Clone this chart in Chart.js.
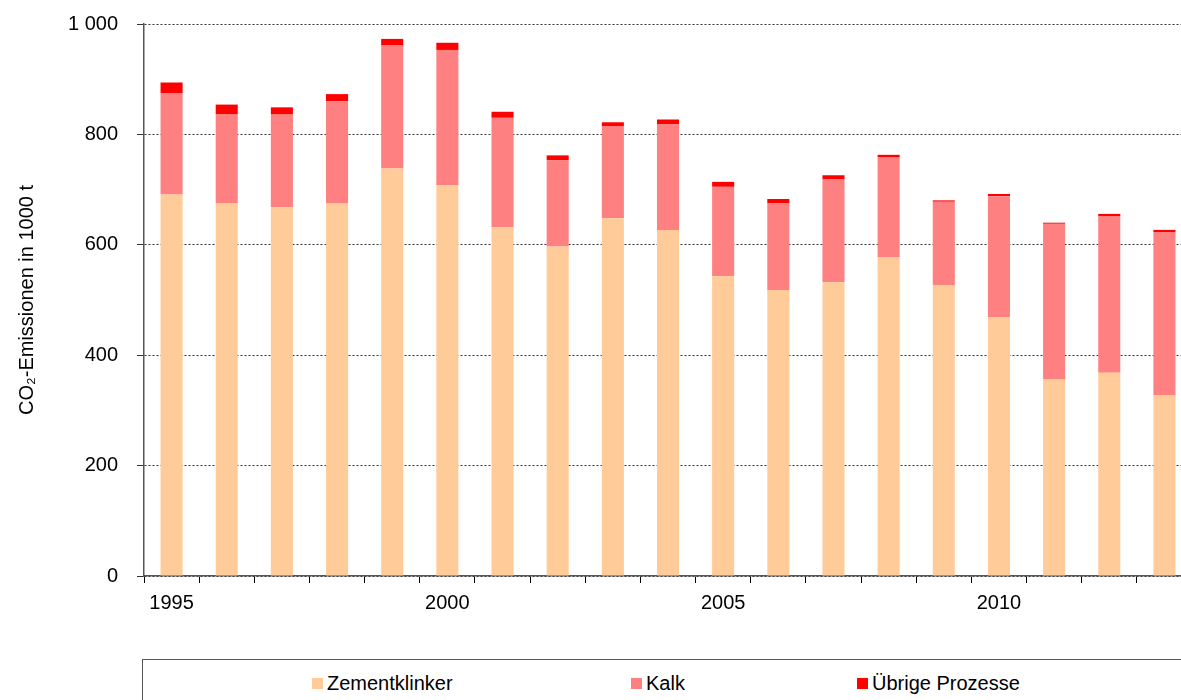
<!DOCTYPE html>
<html lang="de">
<head>
<meta charset="utf-8">
<title>CO2-Emissionen</title>
<script src="https://cdn.jsdelivr.net/npm/chart.js@4"></script>
<style>
  html, body { margin: 0; padding: 0; background: #fff; overflow: hidden; }
  #wrap { position: absolute; left: 0; top: 0; width: 1192px; height: 640px; }
  #legend { position: absolute; left: 142px; top: 659px; width: 1100px; height: 60px;
            border: 1px solid #555; font: 20px "Liberation Sans", Arial, sans-serif; color: #000; }
  .item { position: absolute; top: 13px; height: 21px; display: flex; align-items: center; white-space: nowrap; }
  .box { width: 11px; height: 11px; margin-right: 4px; }
</style>
</head>
<body>
<div id="wrap"><canvas id="chart" width="1192" height="640"></canvas></div>
<div id="legend"></div>
<script>
const years = ['1995', '1996', '1997', '1998', '1999', '2000', '2001', '2002', '2003', '2004',
               '2005', '2006', '2007', '2008', '2009', '2010', '2011', '2012', '2013'];
const klinker = [691, 675, 668, 675, 738, 708, 632, 597, 648, 627, 543, 518, 532, 578, 527, 469, 356, 368, 327];
const kalk = [184, 162, 168, 185, 223, 245, 198, 156, 167, 191, 162, 157, 187, 181, 151, 219, 282, 284, 296];
const uebrige = [19, 17, 13, 13, 12, 13, 11, 9, 7, 9, 9, 8, 7, 4, 2.5, 4, 2, 4, 4];
const seriesNames = ['Zementklinker', 'Kalk', 'Übrige Prozesse'];
const seriesColors = ['#FFCC99', '#FF8080', '#FF0000'];
const legendLeft = [169, 488, 714];

const $ = id => document.getElementById(id);
const font = { family: '"Liberation Sans", Arial, sans-serif', size: 20 };
const fmtThousands = v => String(v).replace(/\B(?=(\d{3})+(?!\d))/g, ' ');

const datasets = [klinker, kalk, uebrige].map((data, i) => ({
  label: seriesNames[i],
  data,
  backgroundColor: seriesColors[i],
  borderWidth: 0,
  barPercentage: 0.4,
  categoryPercentage: 1
}));

new Chart($('chart'), {
  type: 'bar',
  data: { labels: years, datasets },
  options: {
    responsive: false,
    animation: false,
    layout: { padding: { top: 24, right: 0, bottom: 0, left: 0 } },
    plugins: { legend: { display: false }, tooltip: { enabled: false } },
    scales: {
      x: {
        stacked: true,
        afterFit: s => { s.height = 64; },
        grid: { offset: true, drawOnChartArea: false, tickLength: 7, tickColor: '#000', tickWidth: 1 },
        border: { color: '#555', width: 1.5 },
        ticks: {
          autoSkip: false, maxRotation: 0, padding: 8, color: '#000', font,
          callback: (v, i) => (+years[i] % 5 === 0 ? years[i] : '')
        }
      },
      y: {
        stacked: true,
        min: 0,
        max: 1000,
        // fixed axis width, and no extra label padding on top of the layout padding
        afterFit: s => { s.width = 144; s.paddingTop = 0; s.paddingBottom = 0; },
        ticks: { stepSize: 200, padding: 19, color: '#000', font, callback: v => fmtThousands(v) },
        grid: { color: '#333', tickLength: 7, tickColor: '#333', tickBorderDash: [] },
        border: { dash: [2, 2], color: '#555', width: 1.5 },
        title: { display: true, text: 'CO₂-Emissionen in 1000 t', color: '#000', font, padding: { top: 15, bottom: 0 } }
      }
    }
  }
});

// legend in a framed box below the chart
seriesNames.forEach((name, i) => {
  const item = document.createElement('div');
  item.className = 'item';
  item.style.left = legendLeft[i] + 'px';
  item.innerHTML = `<span class="box" style="background:${seriesColors[i]}"></span><span>${name}</span>`;
  $('legend').appendChild(item);
});
</script>
</body>
</html>
